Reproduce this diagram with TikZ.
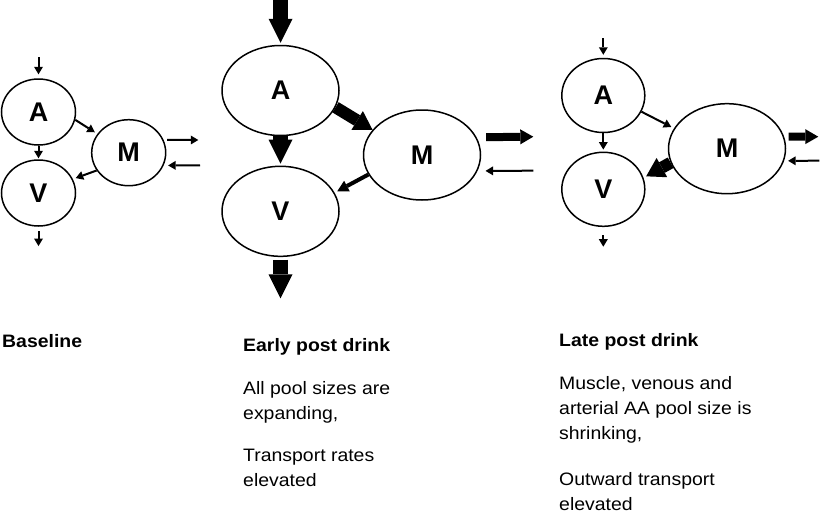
\documentclass[tikz,border=0pt]{standalone}
\usepackage{fontspec}
\usepackage{tikz}
\usetikzlibrary{arrows.meta,shapes.geometric}
\newfontfamily\poolfont{Liberation Sans}
\newfontfamily\notefont[FakeStretch=1.08]{Liberation Sans}
\newcommand{\poolline}{1.5pt}
\tikzset{
  pool/.style={draw,shape=ellipse,line width=\poolline,inner sep=0,font=\poolfont\bfseries\fontsize{27}{27}\selectfont},
  smallpool/.style={pool,minimum width=74pt,minimum height=66pt},
  midpool/.style={pool,minimum width=83pt,minimum height=74pt},
  bigpool/.style={pool,minimum width=117pt,minimum height=90pt},
  thinflow/.style={draw,line width=2pt,-{Triangle[length=7.5pt,width=9pt,line width=0pt]}},
  midflow/.style={draw,line width=4pt,-{Triangle[length=11pt,width=12pt,line width=0pt]}},
  outflow/.style={draw,line width=8pt,-{Triangle[length=13pt,width=15pt,line width=0pt]}},
  diagflow/.style={draw,line width=12pt,-{Triangle[length=18pt,width=22pt,line width=0pt]}},
  bigflow/.style={draw,line width=15pt,-{Triangle[length=24pt,width=24pt,line width=0pt]}},
  title/.style={anchor=base west,inner sep=0,font=\notefont\bfseries\fontsize{18}{25}\selectfont},
  note/.style={anchor=north west,inner sep=0,align=left,font=\notefont\fontsize{18}{25}\selectfont}
}

\begin{document}
\begin{tikzpicture}[x=1pt,y=-1pt]
  \useasboundingbox (0,0) rectangle (822,517);

  % baseline
  \node (bA) [smallpool] at (38.5,112) {A};
  \node (bV) [smallpool] at (38.5,193) {V};
  \node (bM) [smallpool] at (128.7,152.7) {M};
  \coordinate (bIn) at (38.5,57);
  \coordinate (bOut) at (38.5,246);
  \coordinate (bMout) at (198.3,140);
  \coordinate (bMin) at (200,165.3);
  \path [thinflow,shorten >=4pt] (bIn) -- (bA);
  \path [thinflow,shorten >=1pt] (bA) -- (bV);
  \path [thinflow,shorten <=4.5pt] (bV) -- (bOut);
  \path [thinflow,shorten >=3pt] (bA.-12) -- (bM.149);
  \path [thinflow,shorten >=3pt] (bM.209) -- (bV.22);
  \path [thinflow,shorten <=3.5pt] (bM.20) -- (bMout);
  \path [thinflow,shorten >=4.5pt] (bMin) -- (bM.-20);

  % early post drink
  \node (eA) [bigpool] at (280.5,90.5) {A};
  \node (eV) [bigpool] at (280.5,211.3) {V};
  \node (eM) [bigpool] at (422,155) {M};
  \coordinate (eIn) at (280.5,0);
  \coordinate (eOut) at (280.5,298.3);
  \coordinate (eMout) at (533.3,136.7);
  \coordinate (eMin) at (533.3,170.7);
  \path [bigflow,shorten >=2pt] (eIn) -- (eA);
  \path [bigflow,shorten >=2pt] (eA) -- (eV);
  \path [bigflow,shorten <=2.5pt] (eV) -- (eOut);
  \path [diagflow] (eA.-17.6) -- (eM.153.6);
  \path [midflow,shorten >=3pt] (eM.200) -- (eV.19);
  \path [outflow,shorten <=9.5pt] (eM.18.9) -- (eMout);
  \path [thinflow,shorten >=8pt] (eMin) -- (eM.-16);

  % late post drink
  \node (lA) [midpool] at (603.3,95.5) {A};
  \node (lV) [midpool] at (603.3,189.3) {V};
  \node (lM) [bigpool] at (727,148.7) {M};
  \coordinate (lIn) at (603.3,38);
  \coordinate (lOut) at (603.3,246.7);
  \coordinate (lMout) at (818.3,136.7);
  \coordinate (lMin) at (819.3,160.7);
  \path [thinflow,shorten >=3pt] (lIn) -- (lA);
  \path [thinflow,shorten >=2pt] (lA) -- (lV);
  \path [thinflow,shorten <=8pt] (lV) -- (lOut);
  \path [thinflow,shorten >=3pt] (lA.-23) -- (lM.159);
  \path [diagflow,shorten >=3pt] (lM.194.5) -- (lV.16);
  \path [outflow,shorten <=4.5pt] (lM.12.2) -- (lMout);
  \path [thinflow,shorten >=4pt] (lMin) -- (lM.-12.2);

  % captions
  \node (bTitle) [title] at (2,347) {Baseline};
  \node (eTitle) [title] at (243,351.7) {Early post drink};
  \node (eNote1) [note] at (243,381) {All pool sizes are\\expanding,};
  \node (eNote2) [note] at (243,448.7) {Transport rates\\elevated};
  \node (lTitle) [title] at (559,346.7) {Late post drink};
  \node (lNote1) [note] at (559,376.2) {Muscle, venous and\\arterial AA pool size is\\shrinking,};
  \node (lNote2) [note] at (559,471.9) {Outward transport\\elevated};
\end{tikzpicture}
\end{document}
